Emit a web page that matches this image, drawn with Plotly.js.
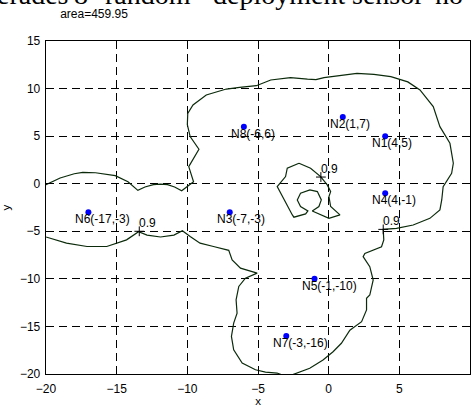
<!DOCTYPE html>
<html>
<head>
<meta charset="utf-8">
<script src="https://cdn.plot.ly/plotly-3.0.1.min.js"></script>
<style>
  html, body { margin: 0; padding: 0; background: #fff; overflow: hidden; }
  #wrap { position: relative; width: 472px; height: 407px; overflow: hidden; }
  #chart { width: 472px; height: 407px; }
  #bodytext { position: absolute; left: 0; top: 0; width: 472px; height: 407px; pointer-events: none; }
  #bodytext span { position: absolute; font-family: 'Liberation Serif', 'Times New Roman', serif;
    font-size: 28px; line-height: 28px; color: #000; white-space: nowrap; }
</style>
</head>
<body>
<div id="wrap">
  <div id="chart"></div>
  <div id="bodytext"></div>
</div>
<script>
// ---- data ----
const areaValue = 459.95;
const contourLevel = 0.9;

const nodeNames = ['N1', 'N2', 'N3', 'N4', 'N5', 'N6', 'N7', 'N8'];
const nodeX = [4, 1, -7, 4, -1, -17, -3, -6];
const nodeY = [5, 7, -3, -1, -10, -3, -16, 6];

// outer 0.9 contour
const outerX = [-20.5, -20, -19, -18, -17.4, -16.5, -15.1, -14.2, -13.5, -13.0, -12.4, -11.9, -11.4, -10.9, -10.4,
  -9.56, -9.9, -9.18, -9.8, -10.0, -9.97, -9.6, -8.66, -7.24, -6.3, -5.12, -4.1, -2.7, -1.5, -0.9, -0.33, 0.85, 2.0,
  3.2, 4.4, 5.6, 6.46, 7.4, 7.75, 7.87, 8.58, 8.82, 8.7, 8.1, 8.0, 7.87, 7.16, 5.98, 4.8, 3.86,
  3.9, 3.74, 2.56, 2.44, 2.91, 3.15, 2.91, 2.68, 2.68, 2.33, 1.5, 1.14, 0.9, 0.31, -0.4, -1.34, -2.17,
  -2.7, -3.2, -3.65, -4.47, -5.18, -6.12, -6.72, -6.88, -6.72, -6.48, -6.55, -6.36, -5.89, -5.06,
  -6.24, -6.83, -7.07, -8.15, -9.1, -9.8, -10.35, -10.95, -11.9, -12.85, -13.45, -14.3, -15.7, -17.1,
  -18.55, -20, -20.5, -20.5];
const outerY = [-0.4, -0.1, 0.6, 1.05, 1.2, 1.15, 0.85, 0.2, -0.7, -0.35, -0.1, -0.05, -0.1, -0.35, -0.75,
  0.21, 1.79, 3.62, 4.95, 6.2, 7.4, 8.27, 9.32, 9.95, 10.13, 10.3, 10.9, 11.15, 11.0, 10.95, 11.15, 11.4, 11.6,
  11.5, 11.25, 10.7, 9.85, 8.1, 6.7, 6.0, 4.25, 2.15, 1.1, -0.31, -1.71, -2.76, -3.64, -4.34, -4.69, -4.8,
  -5.92, -6.62, -7.32, -7.67, -8.72, -10.12, -11.7, -12.05, -13.27, -14.5, -15.4, -16.25, -16.77, -17.66, -18.53, -19.4, -19.86,
  -20.15, -20.15, -19.9, -19.8, -19.55, -18.85, -17.45, -16.05, -14.65, -13.6, -12.2, -10.8, -9.93, -9.4,
  -8.88, -8.0, -7.0, -6.6, -6.25, -5.55, -4.95, -5.4, -5.6, -5.4, -5.05, -5.9, -6.6, -6.6,
  -6.25, -5.6, -5.3, -0.4];

// inner 0.9 contour (hole with pinched loop)
const innerX = [-2.1, -1.28, -0.57, -0.1, 0.14, 0.02, 0.14, 0.5, 0.8, 0.02, -0.8, -1.16,
  -0.69, -0.52, -0.8, -1.33, -1.99, -2.22, -1.99, -1.47,
  -1.63, -2.46, -2.57, -2.93, -3.28, -3.64, -3.05, -2.93, -2.1];
const innerY = [2.15, 1.63, 0.75, -0.13, -0.83, -1.35, -2.4, -2.93, -3.28, -3.63, -3.1, -2.86,
  -2.4, -1.7, -0.83, -0.65, -1.0, -1.7, -2.4, -2.86,
  -3.17, -3.52, -3.28, -2.23, -1.18, -0.3, 0.75, 1.63, 2.15];

// contour label anchor points
const clabelX = [-13.4, -0.55, 3.86];
const clabelY = [-5.0, 0.7, -4.8];

// clipped body text above the figure (from the surrounding document)
const bodyWords = ['erades', '8', 'random', 'deployment', 'sensor', 'no'];
const bodyWordPx = [-3, 74, 105, 213, 352, 435];

const xTicks = [-20, -15, -10, -5, 0, 5, 10];
const yTicks = [-20, -15, -10, -5, 0, 5, 10, 15];

// ---- layout constants ----
const W = 472, H = 407;
const M = { l: 46, r: 2, t: 41, b: 33 };

const sans = 'Liberation Sans, Arial, Helvetica, sans-serif';
const lineCol = '#0b2a0b';

// body text words: top chosen so the baseline sits ~7px from the top edge
const bt = document.getElementById('bodytext');
bodyWords.forEach((w, i) => {
  const s = document.createElement('span');
  s.textContent = w;
  s.style.left = bodyWordPx[i] + 'px';
  s.style.top = '-19px';
  bt.appendChild(s);
});

const traces = [
  { x: outerX, y: outerY, mode: 'lines', type: 'scatter',
    line: { color: lineCol, width: 1.2 }, hoverinfo: 'skip' },
  { x: innerX, y: innerY, mode: 'lines', type: 'scatter',
    line: { color: lineCol, width: 1.2 }, hoverinfo: 'skip' },
  { x: clabelX, y: clabelY, mode: 'markers', type: 'scatter',
    marker: { symbol: 'cross-thin', size: 7, line: { color: '#000', width: 1 } }, hoverinfo: 'skip' },
  { x: nodeX, y: nodeY, mode: 'markers', type: 'scatter',
    marker: { color: '#0000ff', size: 6 }, hoverinfo: 'skip' }
];

const annotations = [];
nodeNames.forEach((n, i) => {
  annotations.push({
    x: nodeX[i], y: nodeY[i], xref: 'x', yref: 'y',
    text: n + '(' + nodeX[i] + ',' + nodeY[i] + ')',
    showarrow: false, xanchor: 'left', yanchor: 'middle',
    xshift: -15, yshift: -7,
    font: { family: sans, size: 12, color: '#000' }
  });
});
clabelX.forEach((x, i) => {
  annotations.push({
    x: x, y: clabelY[i], xref: 'x', yref: 'y',
    text: String(contourLevel),
    showarrow: false, xanchor: 'left', yanchor: 'middle',
    xshift: -2, yshift: 8,
    font: { family: sans, size: 12, color: '#000' }
  });
});

const axisCommon = {
  showline: true, linecolor: '#000', linewidth: 1.3, mirror: 'ticks',
  ticks: 'inside', ticklen: 5, tickcolor: '#000', tickwidth: 1,
  showgrid: true, gridcolor: '#000', gridwidth: 1, griddash: '8px,5px',
  zeroline: false, tickfont: { family: sans, size: 12, color: '#000' },
  fixedrange: true
};

const layout = {
  width: W, height: H, margin: M,
  paper_bgcolor: '#fff', plot_bgcolor: '#fff', showlegend: false,
  title: { text: 'area=' + areaValue, x: 94 / W, xref: 'container', xanchor: 'center',
    y: 1 - 14 / H, yref: 'container', yanchor: 'middle',
    font: { family: sans, size: 12, color: '#000' } },
  xaxis: Object.assign({}, axisCommon, { range: [-20, 10], tickvals: xTicks, ticklabelstandoff: 3,
    title: { text: 'x', font: { family: sans, size: 11.5, color: '#000' }, standoff: 6 } }),
  yaxis: Object.assign({}, axisCommon, { range: [-20, 15], tickvals: yTicks, ticklabelstandoff: 2,
    title: { text: 'y', font: { family: sans, size: 11.5, color: '#000' }, standoff: 7 } }),
  annotations: annotations
};

Plotly.newPlot('chart', traces, layout, { staticPlot: true, displayModeBar: false });
</script>
</body>
</html>
